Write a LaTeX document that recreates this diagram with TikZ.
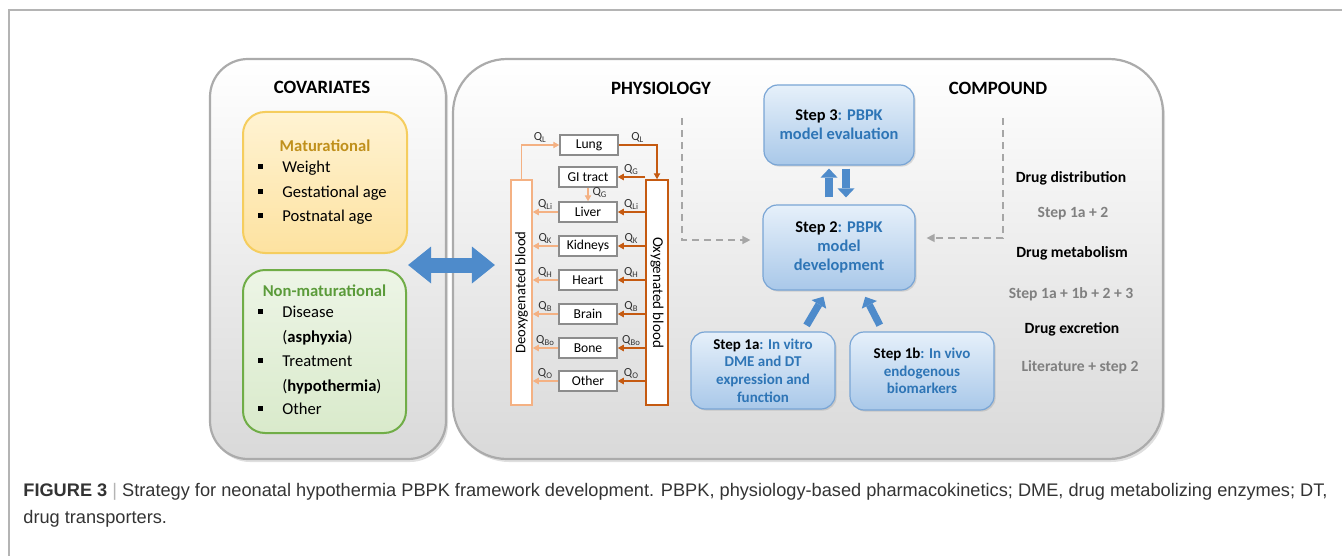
\documentclass[tikz,border=0pt]{standalone}
\usepackage{fontspec}
\setmainfont{Carlito}
\newfontfamily\capfont{Liberation Sans}
\usetikzlibrary{arrows.meta,shadows}

\definecolor{framegray}{HTML}{B4B4B4}
\definecolor{panelline}{HTML}{ABABAB}
\definecolor{panelbot}{HTML}{D9D9D9}
\definecolor{mattop}{HTML}{FFF3D3}
\definecolor{matbot}{HTML}{FDE2A0}
\definecolor{matline}{HTML}{F5CD5E}
\definecolor{mattext}{HTML}{C0901C}
\definecolor{nontop}{HTML}{EDF5E6}
\definecolor{nonbot}{HTML}{D9EACB}
\definecolor{nonline}{HTML}{70AD47}
\definecolor{nontext}{HTML}{5B9B3A}
\definecolor{arrowblue}{HTML}{4E8BCB}
\definecolor{steptop}{HTML}{E6F0FA}
\definecolor{stepbot}{HTML}{A9C8E9}
\definecolor{stepline}{HTML}{79A5D5}
\definecolor{steptext}{HTML}{2E75B6}
\definecolor{oxycol}{HTML}{C55A11}
\definecolor{deoxycol}{HTML}{F4B183}
\definecolor{organline}{HTML}{8C8C8C}
\definecolor{dashgray}{HTML}{A6A6A6}
\definecolor{druggray}{HTML}{808080}
\definecolor{captext}{HTML}{333333}

\newcommand\sqbul{\makebox[12pt][l]{\rule[1.8pt]{2.2pt}{2.2pt}}}
\newcommand\stepcol[1]{\textcolor{steptext}{#1}}

\begin{document}
\begin{tikzpicture}[x=0.5pt,y=-0.5pt]
	\tikzstyle{every node}+=[inner sep=0pt]
	\tikzstyle{panel}=[draw=panelline, line width=1.1pt, top color=white, bottom color=panelbot, drop shadow={opacity=0.25, shadow xshift=1pt, shadow yshift=-1.5pt}]
	\tikzstyle{title}=[font=\bfseries\fontsize{9.4}{11}\selectfont]
	\tikzstyle{covitem}=[anchor=west, font=\fontsize{8.3}{10}\selectfont, text height=6pt, text depth=1.7pt]
	\tikzstyle{organ}=[draw=organline, line width=0.75pt, fill=white, minimum width=29pt, minimum height=10pt, font=\fontsize{6.8}{8}\selectfont]
	\tikzstyle{bar}=[line width=0.75pt, fill=white, minimum height=112.5pt]
	\tikzstyle{qlab}=[font=\fontsize{6.2}{7}\selectfont, text=black!80, above=1pt]
	\tikzstyle{oxyarrow}=[draw=oxycol, line width=0.6pt, -{Triangle[width=3.2pt,length=3pt]}]
	\tikzstyle{deoxyarrow}=[draw=deoxycol, line width=0.6pt, -{Triangle[width=3.2pt,length=3pt]}]
	\tikzstyle{stepbox}=[draw=stepline, line width=0.6pt, rounded corners=7pt, top color=steptop, bottom color=stepbot, align=center, font=\bfseries\fontsize{8.2}{9.4}\selectfont, drop shadow={opacity=0.25, shadow xshift=0.8pt, shadow yshift=-0.8pt}]
	\tikzstyle{blockarrow}=[draw=arrowblue, line width=3.6pt, -{Triangle[width=8.5pt,length=4.5pt,line width=0pt]}]
	\tikzstyle{bigarrow}=[draw=arrowblue, line width=7.5pt, {Triangle[width=18.5pt,length=11.5pt,line width=0pt]}-{Triangle[width=18.5pt,length=11.5pt,line width=0pt]}]
	\tikzstyle{dasharrow}=[draw=dashgray, line width=0.7pt, dash pattern=on 3.5pt off 2.5pt, -{Triangle[width=4pt,length=4pt]}]
	\tikzstyle{drug}=[font=\bfseries\fontsize{7.8}{9}\selectfont]
	\tikzstyle{drugstep}=[drug, text=druggray]
	\useasboundingbox (0,0) rectangle (1342,556);
	\draw [framegray, line width=0.6pt] (9,556) -- (9,10) -- (1342,10);
	\node [panel, rounded corners=19pt, minimum width=118pt, minimum height=200pt] (cov) at (328,259) {};
	\node [panel, rounded corners=27pt, minimum width=355pt, minimum height=200pt] (phys) at (808,259) {};
	\node [title] (covt) at (322,87) {COVARIATES};
	\node [title] (physt) at (661,88) {PHYSIOLOGY};
	\node [title] (compt) at (998,88) {COMPOUND};
	\node [draw=matline, line width=1pt, rounded corners=11pt, top color=mattop, bottom color=matbot, minimum width=82pt, minimum height=70.5pt] (mat) at (325,182.5) {};
	\node [font=\bfseries\fontsize{8.3}{10}\selectfont, text=mattext] (matt) at (325,146) {Maturational};
	\node [covitem] (weight) at (258,168) {\sqbul Weight};
	\node [covitem] (gest) at (258,193) {\sqbul Gestational age};
	\node [covitem] (post) at (258,217) {\sqbul Postnatal age};
	\node [draw=nonline, line width=1pt, rounded corners=11pt, top color=nontop, bottom color=nonbot, minimum width=81.5pt, minimum height=81.5pt] (nonmat) at (324.5,351.5) {};
	\node [font=\bfseries\fontsize{8.3}{10}\selectfont, text=nontext] (nonmatt) at (324.5,291) {Non-maturational};
	\node [covitem] (disease) at (258,313) {\sqbul Disease};
	\node [covitem] (asph) at (282,338) {(\textbf{asphyxia})};
	\node [covitem] (treat) at (258,362) {\sqbul Treatment};
	\node [covitem] (hypo) at (282,387) {(\textbf{hypothermia})};
	\node [covitem] (other) at (258,410) {\sqbul Other};
	\draw [bigarrow, shorten <=-19.5pt, shorten >=-21.5pt] ([yshift=-3pt]cov.east) -- ([yshift=-3pt]phys.west);
	\node [organ] (lung) at (589,145) {Lung};
	\node [organ] (gi) at (588,177) {GI tract};
	\node [organ] (liver) at (588,212) {Liver};
	\node [organ] (kid) at (588,246) {Kidneys};
	\node [organ] (heart) at (588,280) {Heart};
	\node [organ] (brain) at (588,314) {Brain};
	\node [organ] (bone) at (588,348) {Bone};
	\node [organ] (oth) at (588,381) {Other};
	\node [bar, draw=deoxycol, minimum width=10.5pt] (deoxy) at (521.5,292.5) {};
	\node [rotate=90, font=\fontsize{7.3}{8}\selectfont] (deoxyt) at (deoxy) {Deoxygenated blood};
	\node [bar, draw=oxycol, minimum width=11pt] (oxy) at (657,292.5) {};
	\node [rotate=-90, font=\fontsize{7.5}{8}\selectfont] (oxyt) at (oxy) {Oxygenated blood};
	\draw [deoxyarrow] (deoxy.north) |- node [qlab, pos=0.75] {Q\textsubscript{L}} (lung.west);
	\draw [oxyarrow] (lung.east) -| node [qlab, pos=0.25] {Q\textsubscript{L}} (oxy.north);
	\draw [oxyarrow] (oxy.west |- gi.east) -- node [qlab] {Q\textsubscript{G}} (gi.east);
	\draw [deoxyarrow] (gi.south) -- node [qlab, right=2pt] {Q\textsubscript{G}} (liver.north);
	\draw [oxyarrow] (oxy.west |- liver.east) -- node [qlab] {Q\textsubscript{Li}} (liver.east);
	\draw [oxyarrow] (oxy.west |- kid.east) -- node [qlab] {Q\textsubscript{K}} (kid.east);
	\draw [oxyarrow] (oxy.west |- heart.east) -- node [qlab] {Q\textsubscript{H}} (heart.east);
	\draw [oxyarrow] (oxy.west |- brain.east) -- node [qlab] {Q\textsubscript{B}} (brain.east);
	\draw [oxyarrow] (oxy.west |- bone.east) -- node [qlab] {Q\textsubscript{Bo}} (bone.east);
	\draw [oxyarrow] (oxy.west |- oth.east) -- node [qlab] {Q\textsubscript{O}} (oth.east);
	\draw [deoxyarrow] (liver.west) -- node [qlab] {Q\textsubscript{Li}} (liver.west -| deoxy.east);
	\draw [deoxyarrow] (kid.west) -- node [qlab] {Q\textsubscript{K}} (kid.west -| deoxy.east);
	\draw [deoxyarrow] (heart.west) -- node [qlab] {Q\textsubscript{H}} (heart.west -| deoxy.east);
	\draw [deoxyarrow] (brain.west) -- node [qlab] {Q\textsubscript{B}} (brain.west -| deoxy.east);
	\draw [deoxyarrow] (bone.west) -- node [qlab] {Q\textsubscript{Bo}} (bone.west -| deoxy.east);
	\draw [deoxyarrow] (oth.west) -- node [qlab] {Q\textsubscript{O}} (oth.west -| deoxy.east);
	\node [stepbox, minimum width=75pt, minimum height=40pt] (s3) at (839,125) {Step 3\stepcol{: PBPK}\\\stepcol{model evaluation}};
	\node [stepbox, minimum width=76pt, minimum height=42.5pt] (s2) at (839,247.5) {Step 2\stepcol{: PBPK}\\\stepcol{model}\\\stepcol{development}};
	\node [stepbox, font=\bfseries\fontsize{7.5}{8.8}\selectfont, minimum width=72pt, minimum height=38.5pt] (s1a) at (763,370.5) {Step 1a\stepcol{: In vitro}\\\stepcol{DME and DT}\\\stepcol{expression and}\\\stepcol{function}};
	\node [stepbox, font=\bfseries\fontsize{7.5}{8.8}\selectfont, minimum width=72pt, minimum height=39pt] (s1b) at (922,371) {Step 1b\stepcol{: In vivo}\\\stepcol{endogenous}\\\stepcol{biomarkers}};
	\draw [blockarrow, shorten <=3.5pt, shorten >=1.5pt] ([xshift=-5pt]s2.north) -- ([xshift=-5pt]s3.south);
	\draw [blockarrow, shorten <=1.5pt, shorten >=3.5pt] ([xshift=3.5pt]s3.south) -- ([xshift=3.5pt]s2.north);
	\draw [blockarrow, shorten <=3.5pt, shorten >=3.5pt] ([xshift=20pt]s1a.north) -- ([xshift=-6pt]s2.south);
	\draw [blockarrow, shorten <=3.5pt, shorten >=3.5pt] ([xshift=-19.5pt]s1b.north) -- ([xshift=11.5pt]s2.south);
	\coordinate (physdash) at (682,118);
	\coordinate (compdash) at (1003,118);
	\draw [dasharrow, shorten >=6pt] (physdash) |- ([yshift=3.75pt]s2.west);
	\draw [dasharrow, shorten >=5.5pt] (compdash) |- ([yshift=4.75pt]s2.east);
	\node [drug] (dist) at (1071,178) {Drug distribution};
	\node [drugstep] (diststep) at (1073,214) {Step 1a + 2};
	\node [drug] (metab) at (1072,253) {Drug metabolism};
	\node [drugstep] (metabstep) at (1071,294) {Step 1a + 1b + 2 + 3};
	\node [drug] (excr) at (1072,329) {Drug excretion};
	\node [drugstep] (excrstep) at (1080,367) {Literature + step 2};
	\node [anchor=base west, font=\capfont\fontsize{9.1}{11}\selectfont, text=captext] (capa) at (23,496) {\textbf{FIGURE 3} \textcolor{framegray}{|} Strategy for neonatal hypothermia PBPK framework development. PBPK, physiology-based pharmacokinetics; DME, drug metabolizing enzymes; DT,};
	\node [anchor=base west, font=\capfont\fontsize{9.1}{11}\selectfont, text=captext] (capb) at (23,523) {drug transporters.};
\end{tikzpicture}
\end{document}
